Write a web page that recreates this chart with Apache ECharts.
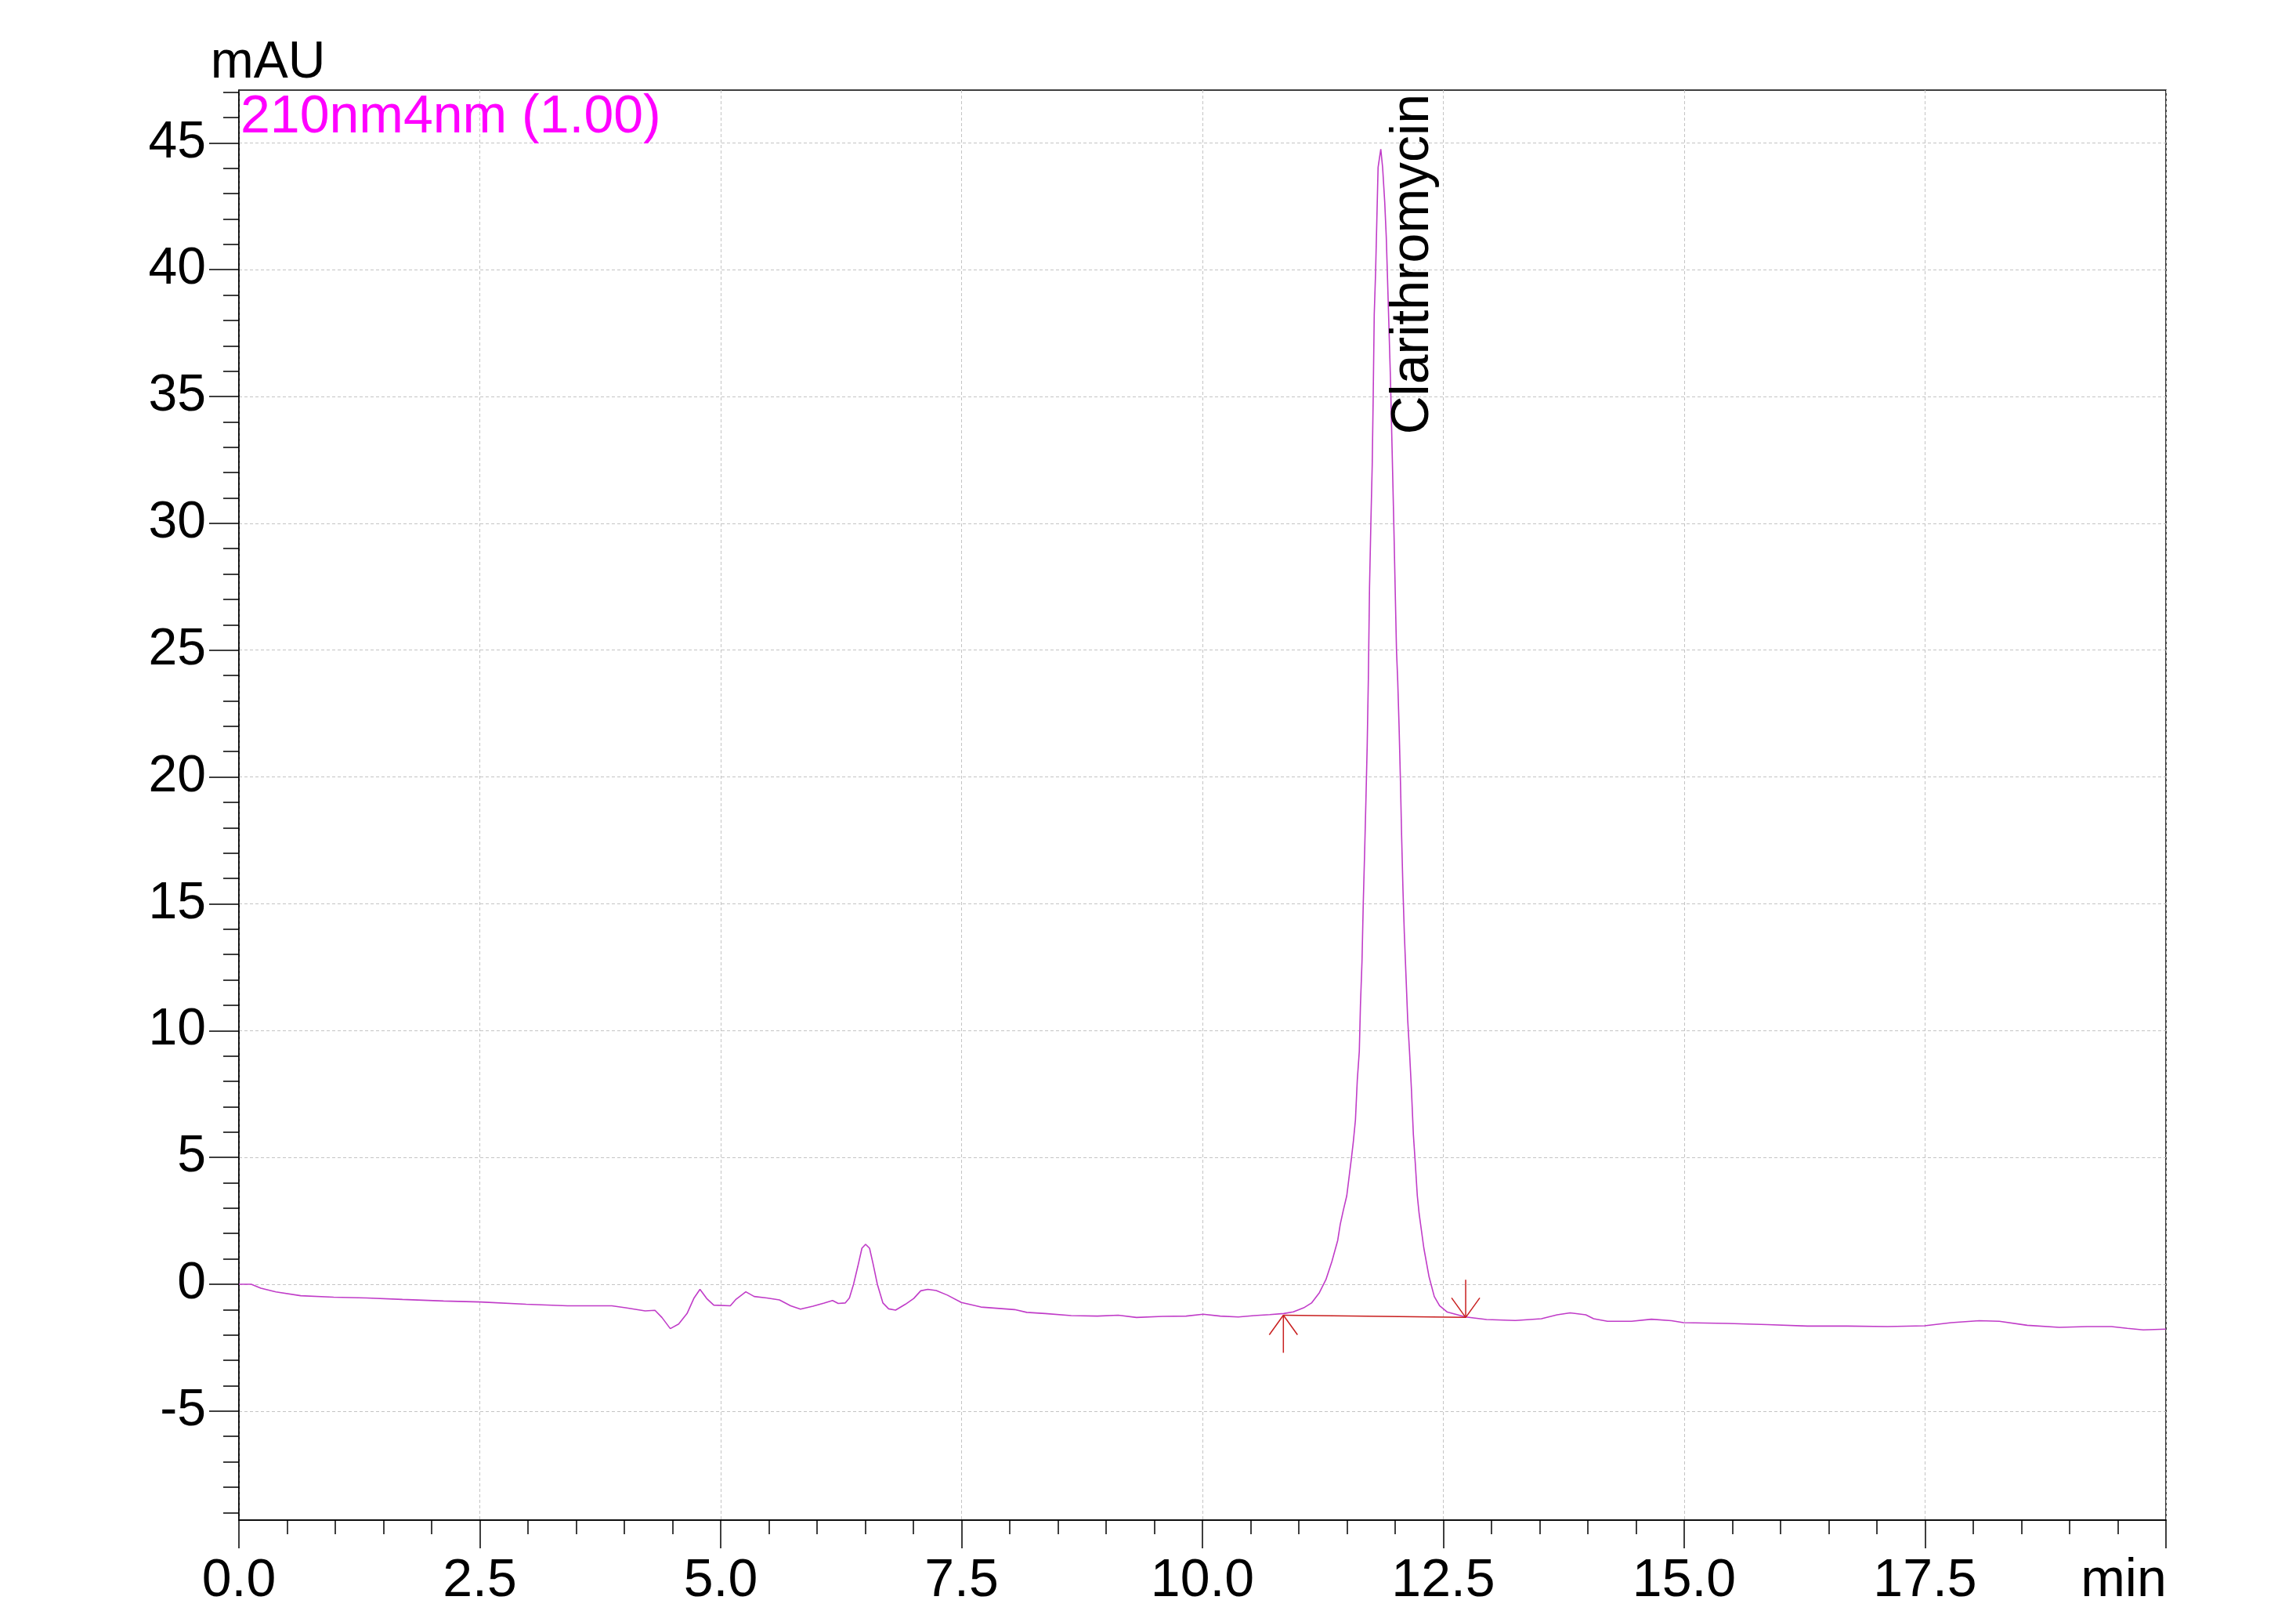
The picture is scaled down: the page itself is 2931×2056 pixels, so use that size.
<!DOCTYPE html>
<html>
<head>
<meta charset="utf-8">
<script src="https://cdn.jsdelivr.net/npm/echarts@6/dist/echarts.min.js"></script>
<style>
html,body{margin:0;padding:0;background:#fff;}
#chart{width:2931px;height:2056px;}
</style>
</head>
<body>
<div id="chart"></div>
<script>
// ---- data ----
const seriesName = '210nm4nm (1.00)';
const times = [
  0.0, 0.128, 0.227, 0.384, 0.641, 0.983, 1.326, 1.697, 2.124, 2.509, 2.98, 3.41, 3.87,
  4.013, 4.216, 4.318, 4.39, 4.477, 4.564, 4.651, 4.724, 4.785, 4.854, 4.928, 5.1, 5.16,
  5.261, 5.348, 5.479, 5.61, 5.726, 5.828, 5.958, 6.074, 6.161, 6.22, 6.292, 6.336, 6.379,
  6.423, 6.466, 6.504, 6.545, 6.582, 6.626, 6.684, 6.743, 6.815, 6.917, 7.004, 7.076, 7.15,
  7.237, 7.353, 7.498, 7.701, 8.05, 8.177, 8.367, 8.638, 8.909, 9.126, 9.316, 9.587, 9.831,
  10.007, 10.184, 10.373, 10.536, 10.699, 10.843, 10.943, 11.051, 11.132, 11.214, 11.282,
  11.344, 11.404, 11.43, 11.463, 11.498, 11.526, 11.547, 11.566, 11.588, 11.607, 11.628,
  11.64, 11.656, 11.669, 11.683, 11.697, 11.71, 11.722, 11.734, 11.748, 11.762, 11.772,
  11.783, 11.797, 11.81, 11.823, 11.851, 11.87, 11.892, 11.908, 11.919, 11.935, 11.951,
  11.968, 11.986, 12.0, 12.014, 12.027, 12.041, 12.055, 12.067, 12.081, 12.095, 12.114,
  12.13, 12.149, 12.168, 12.189, 12.209, 12.23, 12.249, 12.298, 12.352, 12.406, 12.461,
  12.542, 12.732, 12.949, 13.247, 13.518, 13.681, 13.816, 13.979, 14.06, 14.204, 14.453,
  14.66, 14.868, 14.993, 15.449, 15.864, 16.279, 16.693, 17.109, 17.494, 17.772, 18.063,
  18.27, 18.56, 18.893, 19.184, 19.433, 19.599, 19.764, 20.0
];
const signal = [
  0.0, 0.0, -0.155, -0.30, -0.454, -0.51, -0.54, -0.60, -0.66, -0.70, -0.79, -0.85, -0.85,
  -0.93, -1.05, -1.03, -1.31, -1.75, -1.57, -1.155, -0.54, -0.20, -0.56, -0.825, -0.85, -0.59,
  -0.30, -0.485, -0.54, -0.62, -0.85, -0.98, -0.865, -0.74, -0.64, -0.76, -0.74, -0.54, 0.0,
  0.70, 1.42, 1.575, 1.42, 0.80, 0.0, -0.74, -0.97, -1.02, -0.79, -0.56, -0.26, -0.20,
  -0.25, -0.43, -0.72, -0.90, -1.0, -1.11, -1.155, -1.236, -1.257, -1.22, -1.31, -1.27, -1.257,
  -1.185, -1.257, -1.29, -1.236, -1.20, -1.155, -1.09, -0.93, -0.74, -0.33, 0.185,
  0.905, 1.73, 2.36, 2.93, 3.49, 4.35, 4.99, 5.62, 6.48, 8.04, 9.18,
  11.02, 12.73, 15.0, 16.99, 19.12, 21.25, 23.9, 27.46, 29.99, 32.29, 34.92,
  38.23, 39.89, 41.96, 44.03, 44.75, 44.03, 42.65, 41.27, 39.89, 37.82, 35.75,
  32.98, 29.99, 27.46, 24.99, 23.76, 21.96, 19.83, 17.70, 15.57, 13.86, 12.02,
  10.45, 9.18, 7.76, 5.91, 4.77, 3.49, 2.78, 1.42, 0.29, -0.485, -0.85,
  -1.10, -1.29, -1.39, -1.43, -1.36, -1.205, -1.13, -1.205, -1.36, -1.46, -1.46,
  -1.38, -1.44, -1.515, -1.545, -1.59, -1.65, -1.65, -1.67, -1.64, -1.515, -1.44,
  -1.46, -1.62, -1.70, -1.67, -1.67, -1.74, -1.80, -1.77
];
const peakNames = ['Clarithromycin'];
const peakTimes = [11.851];
const integTimes = [10.84, 12.732];
const integValues = [-1.22, -1.31];
const xTickValues = [0, 2.5, 5, 7.5, 10, 12.5, 15, 17.5, 20];
const yTickValues = [-5, 0, 5, 10, 15, 20, 25, 30, 35, 40, 45];
const X_MIN = 0, X_MAX = 20;
const Y_MIN = -9.3, Y_MAX = 47.08;
const xUnit = 'min';
const yUnit = 'mAU';

// ---- chart ----
const FONT = "'Liberation Sans', Arial, sans-serif";
const TRACE = '#c03cc8';
const RED = '#c81e1e';
const chart = echarts.init(document.getElementById('chart'), null, {renderer: 'canvas'});
const traceData = times.map((t, i) => [t, signal[i]]);
const integData = integTimes.map((t, i) => [t, integValues[i]]);

const option = {
  animation: false,
  backgroundColor: '#fff',
  grid: {left: 305, right: 166, top: 115, bottom: 116, show: true, borderColor: '#000', borderWidth: 1.5},
  legend: {
    data: [seriesName], icon: 'none', itemWidth: 0, itemHeight: 60, selectedMode: false,
    left: 302, top: 116, padding: 0,
    textStyle: {color: '#ff00ff', fontSize: 68, fontFamily: FONT}
  },
  xAxis: {
    type: 'value', min: X_MIN, max: X_MAX, interval: 2.5,
    axisLine: {show: true, onZero: false, lineStyle: {color: '#000', width: 1.5}},
    axisTick: {show: true, inside: false, length: 36, customValues: xTickValues, lineStyle: {color: '#000', width: 1.5}},
    minorTick: {show: true, splitNumber: 5, length: 18, lineStyle: {color: '#000', width: 1.5}},
    splitLine: {show: true, lineStyle: {color: '#c4c4c4', width: 1, type: [4, 3]}},
    axisLabel: {
      customValues: xTickValues,
      margin: 44, fontSize: 68, color: '#000', fontFamily: FONT,
      formatter: v => (v === X_MAX ? '{u|' + xUnit + '}' : v.toFixed(1)),
      rich: {u: {fontSize: 68, color: '#000', fontFamily: FONT, padding: [0, 108, 0, 0]}}
    }
  },
  yAxis: {
    type: 'value', min: Y_MIN, max: Y_MAX, minInterval: 5, maxInterval: 5, splitNumber: 10,
    name: yUnit, nameLocation: 'end', nameGap: 1,
    nameTextStyle: {color: '#000', fontSize: 66, fontFamily: FONT, align: 'center', verticalAlign: 'bottom', padding: [0, 0, 0, 74]},
    axisLine: {show: true, onZero: false, lineStyle: {color: '#000', width: 1.5}},
    axisTick: {show: true, inside: false, length: 38, customValues: yTickValues, lineStyle: {color: '#000', width: 1.5}},
    minorTick: {show: true, splitNumber: 5, length: 20, lineStyle: {color: '#000', width: 1.5}},
    splitLine: {show: true, lineStyle: {color: '#c4c4c4', width: 1, type: [4, 3]}},
    axisLabel: {customValues: yTickValues, margin: 42, fontSize: 66, color: '#000', fontFamily: FONT, formatter: v => String(v)}
  },
  series: [
    {
      name: seriesName, type: 'line', data: traceData, showSymbol: false, symbol: 'none',
      lineStyle: {color: TRACE, width: 1.6}, itemStyle: {color: TRACE}, z: 3,
      markPoint: {
        symbol: 'circle', symbolSize: 1, silent: true,
        itemStyle: {color: 'rgba(0,0,0,0)'},
        label: {
          show: true, formatter: '{b}', position: 'inside', rotate: 90,
          align: 'right', verticalAlign: 'middle', offset: [-5, 42],
          fontSize: 68, color: '#000', fontFamily: FONT
        },
        data: peakNames.map((n, i) => ({name: n, coord: [peakTimes[i], Y_MAX]}))
      }
    },
    {
      name: 'baseline', type: 'line', data: integData, showSymbol: false, symbol: 'none',
      lineStyle: {color: RED, width: 1.5}, z: 4
    },
    {
      name: 'markers', type: 'custom', data: integData, z: 4, clip: false,
      encode: {x: 0, y: 1},
      renderItem: function (params, api) {
        const p = api.coord([api.value(0), api.value(1)]);
        const d = params.dataIndex === 0 ? 1 : -1;
        const st = {stroke: RED, lineWidth: 1.5};
        return {type: 'group', children: [
          {type: 'line', shape: {x1: p[0], y1: p[1], x2: p[0], y2: p[1] + d * 48}, style: st},
          {type: 'line', shape: {x1: p[0], y1: p[1], x2: p[0] - 18, y2: p[1] + d * 25}, style: st},
          {type: 'line', shape: {x1: p[0], y1: p[1], x2: p[0] + 18, y2: p[1] + d * 25}, style: st}
        ]};
      }
    }
  ]
};
chart.setOption(option);
</script>
</body>
</html>
